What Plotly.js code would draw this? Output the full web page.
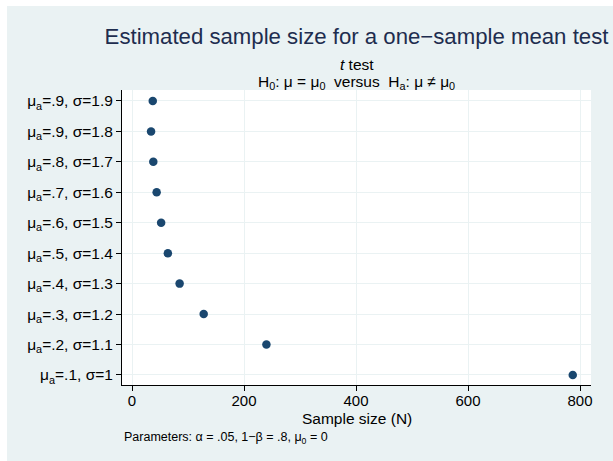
<!DOCTYPE html>
<html>
<head>
<meta charset="utf-8">
<script src="https://cdn.plot.ly/plotly-3.0.1.min.js"></script>
<style>
html,body{margin:0;padding:0;background:#ffffff;}
#chart{position:absolute;left:7px;top:6px;width:606px;height:455px;}
</style>
</head>
<body>
<div id="chart"></div>
<script>
// Data (bottom to top)
const muA = [".1", ".2", ".3", ".4", ".5", ".6", ".7", ".8", ".9", ".9"];
const sigma = ["1", "1.1", "1.2", "1.3", "1.4", "1.5", "1.6", "1.7", "1.8", "1.9"];
const sampleSize = [787, 240, 128, 85, 64, 52, 44, 38, 34, 37];
const xTicks = [0, 200, 400, 600, 800];
const xTitle = "Sample size (N)";

const idx = muA.map((_, i) => i);
const labels = muA.map((m, i) => "μ<sub>a</sub>=" + m + ", σ=" + sigma[i]);

const font = "Liberation Sans, Arial, sans-serif";

const trace = {
  type: "scatter",
  mode: "markers",
  x: sampleSize,
  y: idx,
  marker: {color: "#1a476f", size: 8.5},
  hoverinfo: "x"
};

const layout = {
  width: 606,
  height: 455,
  paper_bgcolor: "#eaf2f3",
  plot_bgcolor: "#ffffff",
  margin: {l: 115, r: 22, t: 84, b: 76},
  showlegend: false,
  font: {family: font, size: 15.5, color: "#000000"},
  title: {
    text: "Estimated sample size for a one−sample mean test",
    font: {family: font, size: 22.2, color: "#1e2d4f"},
    xref: "paper", x: 0.5, xanchor: "center",
    yref: "container", y: 0.934, yanchor: "middle"
  },
  xaxis: {
    range: [-17.9, 819.6],
    tickvals: xTicks,
    ticktext: xTicks.map(String),
    ticks: "outside", ticklen: 5, tickcolor: "#000000",
    ticklabelstandoff: -3,
    showline: true, linecolor: "#000000", linewidth: 1,
    showgrid: true, gridcolor: "#eaf2f3", gridwidth: 1,
    zeroline: false,
    tickfont: {size: 15}
  },
  yaxis: {
    range: [-0.33, 9.36],
    tickvals: idx,
    ticktext: labels,
    ticks: "outside", ticklen: 5, tickcolor: "#000000",
    showline: true, linecolor: "#000000", linewidth: 1,
    showgrid: true, gridcolor: "#eaf2f3", gridwidth: 1,
    zeroline: false,
    tickfont: {size: 15.5}
  },
  annotations: [
    {text: "<i>t</i> test", xref: "paper", yref: "paper", x: 0.5, y: 1.088,
     xanchor: "center", yanchor: "middle", showarrow: false, font: {size: 15.5}},
    {text: "H<sub>0</sub>: μ = μ<sub>0</sub>  versus  H<sub>a</sub>: μ ≠ μ<sub>0</sub>",
     xref: "paper", yref: "paper", x: 0.5, y: 1.027,
     xanchor: "center", yanchor: "middle", showarrow: false, font: {size: 15.5}},
    {text: xTitle, xref: "paper", yref: "paper", x: 0.5, y: -0.114,
     xanchor: "center", yanchor: "middle", showarrow: false, font: {size: 15.5}},
    {text: "Parameters: α = .05, 1−β = .8, μ<sub>0</sub> = 0",
     xref: "paper", yref: "paper", x: 0.0, y: -0.18,
     xanchor: "left", yanchor: "middle", showarrow: false, font: {size: 12.5}}
  ]
};

Plotly.newPlot("chart", [trace], layout, {displayModeBar: false, staticPlot: true});
</script>
</body>
</html>
